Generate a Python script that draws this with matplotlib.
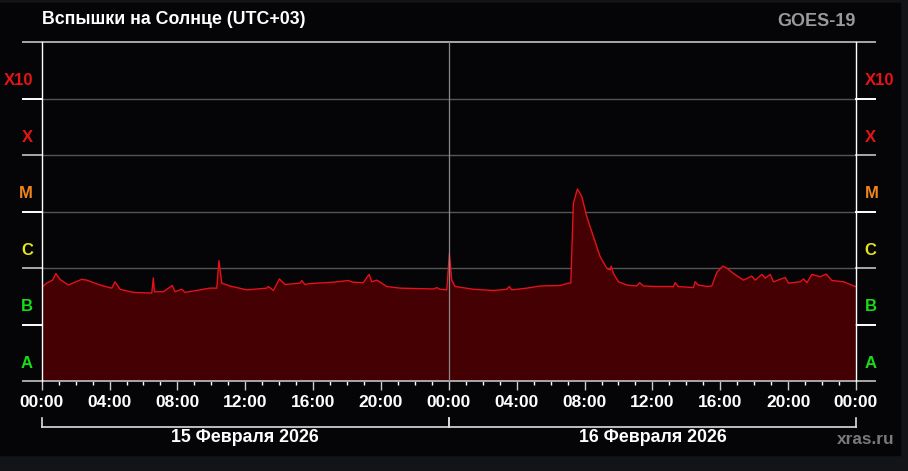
import matplotlib
matplotlib.use("Agg")
import matplotlib.pyplot as plt
import matplotlib.transforms as mtransforms
from matplotlib.patches import Rectangle
import numpy as np

# GOES-19 X-ray flux, hours since 00:00 15 Feb 2026 (UTC+03), W/m^2
hours = [0.00, 0.29, 0.65, 0.83, 1.08, 1.57, 2.36, 2.65, 3.44, 4.13, 4.32, 4.62,
         5.40, 6.49, 6.58, 6.64, 7.17, 7.70, 7.86, 8.25, 8.45, 9.33, 9.92, 10.32,
         10.45, 10.61, 11.10, 12.09, 13.27, 13.36, 13.66, 14.01, 14.35, 15.23, 15.33,
         15.52, 15.82, 17.19, 18.08, 18.35, 18.96, 19.30, 19.46, 19.75, 19.95, 20.34,
         21.13, 23.09, 23.29, 23.48, 23.88, 24.03, 24.17, 24.37,
         25.45, 26.63, 27.42, 27.56, 27.71, 28.60, 29.38, 30.56, 31.05, 31.19, 31.34,
         31.58, 31.84, 32.13, 32.52, 32.92, 33.31, 33.51, 33.57, 33.70, 34.00, 34.49,
         35.08, 35.24, 35.47, 36.26, 37.24, 37.34, 37.52, 38.42, 38.52, 38.70, 39.21,
         39.50, 39.80, 40.15, 40.39, 40.78, 41.37, 41.86, 42.06, 42.45, 42.65, 42.94,
         43.14, 43.83, 44.02, 44.71, 44.91, 45.11, 45.40, 45.89, 46.24, 46.58, 47.27,
         47.96]
flux = [4.5e-7, 5.4e-7, 6.1e-7, 8.0e-7, 6.3e-7, 5.0e-7, 6.3e-7, 6.1e-7, 5.0e-7, 4.4e-7, 5.7e-7, 4.2e-7,
        3.7e-7, 3.6e-7, 6.7e-7, 3.8e-7, 3.8e-7, 4.9e-7, 3.8e-7, 4.2e-7, 3.7e-7, 4.1e-7, 4.4e-7, 4.4e-7,
        1.35e-6, 5.4e-7, 4.8e-7, 4.1e-7, 4.4e-7, 4.7e-7, 4.0e-7, 6.4e-7, 5.1e-7, 5.4e-7, 6.0e-7,
        5.1e-7, 5.3e-7, 5.6e-7, 6.0e-7, 5.6e-7, 5.5e-7, 7.7e-7, 5.7e-7, 6.1e-7, 5.6e-7, 4.7e-7,
        4.4e-7, 4.25e-7, 4.5e-7, 4.2e-7, 4.1e-7, 1.8e-6, 6.1e-7, 4.7e-7,
        4.2e-7, 4.0e-7, 4.2e-7, 4.7e-7, 4.1e-7, 4.4e-7, 4.8e-7, 4.9e-7, 5.4e-7, 5.4e-7, 1.4e-5,
        2.5e-5, 1.83e-5, 8.1e-6, 3.6e-6, 1.58e-6, 9.9e-7, 9.2e-7, 1.08e-6, 8.0e-7, 5.7e-7, 5.0e-7,
        4.8e-7, 5.5e-7, 4.8e-7, 4.7e-7, 4.7e-7, 5.5e-7, 4.7e-7, 4.5e-7, 5.7e-7, 5.0e-7, 4.7e-7,
        4.8e-7, 8.4e-7, 1.08e-6, 9.9e-7, 8.0e-7, 6.1e-7, 7.2e-7, 6.1e-7, 7.7e-7, 6.6e-7, 7.7e-7,
        5.7e-7, 6.8e-7, 5.4e-7, 5.7e-7, 6.4e-7, 5.5e-7, 7.7e-7, 7.0e-7, 7.8e-7, 6.0e-7, 5.7e-7,
        4.7e-7]

classes = ['A', 'B', 'C', 'M', 'X', 'X10']
class_colors = ['#18dc18', '#18dc18', '#e6e619', '#f0861a', '#e61414', '#e61414']
levels = [1e-8, 1e-7, 1e-6, 1e-5, 1e-4, 1e-3, 1e-2]
tick_hours = list(range(0, 49, 4))
tick_labels = ['00:00', '04:00', '08:00', '12:00', '16:00', '20:00',
               '00:00', '04:00', '08:00', '12:00', '16:00', '20:00', '00:00']
days = ['15 Февраля 2026', '16 Февраля 2026']

plt.rcParams['font.family'] = ['Liberation Sans', 'DejaVu Sans']
plt.rcParams['font.weight'] = 'bold'

fig = plt.figure(figsize=(9.08, 4.71), dpi=100, facecolor='#131418')
# black main panel
fig.patches.append(Rectangle((0, 1 - 455/471), 900/908, (455 - 3)/471,
                             transform=fig.transFigure, color='#050407', zorder=-10))

ax = fig.add_axes([41.7/908, 1 - 381/471, (856 - 41.7)/908, (381 - 42)/471])
ax.set_facecolor('#050407')
ax.set_yscale('log')
ax.set_xlim(0, 48)
ax.set_ylim(1e-8, 1e-2)

blend = mtransforms.blended_transform_factory(ax.transAxes, ax.transData)

# horizontal class lines
for i, lv in enumerate(levels):
    inner = '#a8a8a8' if i in (0, 6) else '#555555'
    outer = '#a8a8a8' if i % 2 == 0 else '#ffffff'
    z = 4 if i == 0 else 1
    ax.plot([0, 1], [lv, lv], transform=blend, color=inner, lw=1.4 if i in (0, 6) else 1.0, zorder=z, clip_on=False)
    ax.plot([-0.023, 0], [lv, lv], transform=blend, color=outer, lw=1.4, zorder=z, clip_on=False)
    ax.plot([1, 1.0233], [lv, lv], transform=blend, color=outer, lw=1.4, zorder=z, clip_on=False)

# flux
ax.fill_between(hours, flux, 1e-8, color='#450004', lw=0, zorder=2)
ax.plot(hours, flux, color='#e8101a', lw=1.0, zorder=3)

# midnight divider
ax.axvline(24, color='#8a8a8a', lw=0.9, zorder=5)

# class labels: right-aligned on the left, left-aligned on the right
for i, name in enumerate(classes):
    yc = levels[i] * 10**0.31
    ax.text(-0.0107, yc, name, transform=blend, color=class_colors[i], fontsize=12,
            fontweight='bold', ha='right', va='center')
    ax.text(1.0104, yc, name, transform=blend, color=class_colors[i], fontsize=12,
            fontweight='bold', ha='left', va='center')

for s in ['top', 'bottom']:
    ax.spines[s].set_visible(False)
for s in ['left', 'right']:
    ax.spines[s].set_color('#ffffff')
    ax.spines[s].set_linewidth(1.0)
    ax.spines[s].set_zorder(6)

ax.set_yticks([])
ax.set_yticks([], minor=True)
ax.set_xticks(tick_hours)
ax.set_xticklabels(tick_labels)
ax.set_xticks(range(0, 49), minor=True)
ax.tick_params(axis='x', which='major', length=6.5, width=1.0, color='#cccccc',
               labelcolor='#ffffff', labelsize=12.5, pad=3.5)
ax.tick_params(axis='x', which='minor', length=3.2, width=1.0, color='#ffffff')
for lab in ax.get_xticklabels():
    lab.set_fontweight('bold')

# day brackets
yb, yt = -0.1357, -0.1091
for d in range(2):
    x0, x1 = d*0.5, d*0.5 + 0.5
    ax.plot([x0, x1], [yb, yb], transform=ax.transAxes, color='#dddddd', lw=1.2, clip_on=False)
    ax.plot([x0, x0], [yb, yt], transform=ax.transAxes, color='#dddddd', lw=1.2, clip_on=False)
    ax.plot([x1, x1], [yb, yt], transform=ax.transAxes, color='#dddddd', lw=1.2, clip_on=False)
    ax.text((x0 + x1)/2, -0.168, days[d], transform=ax.transAxes, color='#ffffff',
            fontsize=12.8, fontweight='bold', ha='center', va='center')

fig.text(41.7/908, 1 - 19/471, 'Вспышки на Солнце (UTC+03)', color='#ffffff',
         fontsize=12.8, fontweight='bold', ha='left', va='center')
fig.text(856/908, 1 - 22/471, 'GOES-19', color='#9a9a9a',
         fontsize=13, fontweight='bold', ha='right', va='center')
fig.text(866/908, 1 - 439/471, 'xras.ru', color='#7a7a7a',
         fontsize=12.4, fontweight='bold', ha='center', va='center')

fig.savefig('out.png', dpi=100, facecolor=fig.get_facecolor())
